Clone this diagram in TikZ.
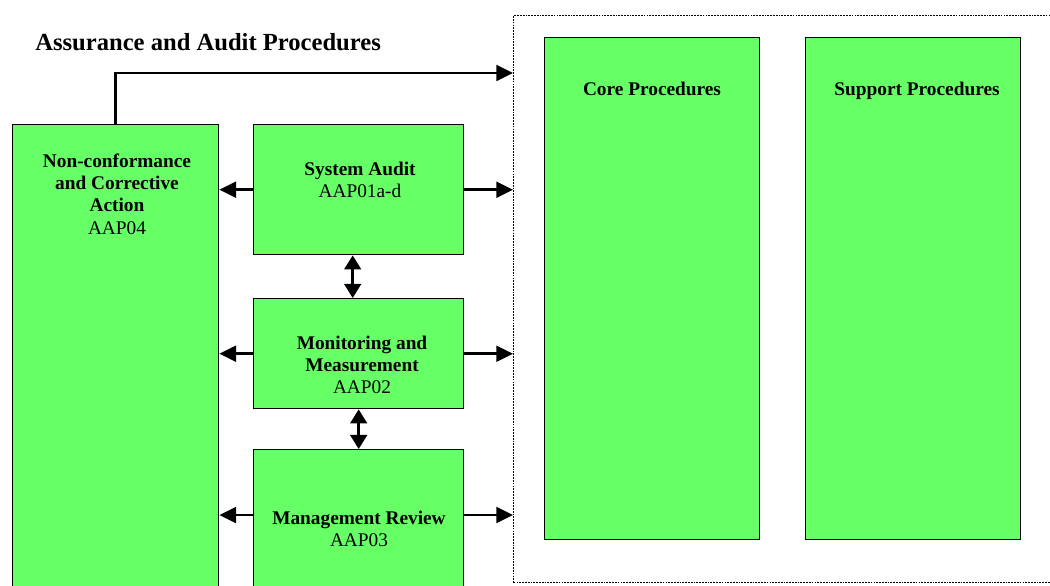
\documentclass[tikz,border=0pt]{standalone}
\usepackage{fontspec}
\setmainfont{Liberation Serif}
\usetikzlibrary{arrows.meta,calc}

\definecolor{procgreen}{HTML}{66FF66}

\tikzset{
  procbox/.style={draw, line width=0.8pt, fill=procgreen, inner sep=0pt, anchor=north west},
  boxtext/.style={align=center, font=\fontsize{11}{12.7}\selectfont},
  headtext/.style={anchor=base, font=\fontsize{11}{12.7}\selectfont\bfseries},
  flow/.style={line width=1.5pt, -{Triangle[length=9.5pt, width=9pt]}},
  dflow/.style={line width=1.5pt, {Triangle[length=8pt, width=9.5pt]}-{Triangle[length=8pt, width=9.5pt]}}
}

\begin{document}
\begin{tikzpicture}[x=0.02cm, y=-0.02cm]

\useasboundingbox (0,0) rectangle (1050,585) ;

\node [anchor=west, inner sep=0pt, font=\fontsize{14}{16}\selectfont\bfseries] (title) at (35,42) {Assurance and Audit Procedures} ;

% procedures frame
\node [draw, dash pattern=on 1pt off 0.6pt, line width=0.8pt, inner sep=0pt, anchor=north west,
       minimum width=11.14cm, minimum height=11.34cm] (frame) at (513,15) {} ;

\node [procbox, minimum width=4.3cm, minimum height=10.04cm] (core) at (544,37) {} ;
\node [procbox, minimum width=4.3cm, minimum height=10.04cm] (support) at (805,37) {} ;
\node [headtext] at (652,95) {Core Procedures} ;
\node [headtext] at (917,95) {Support Procedures} ;

% assurance boxes
\node [procbox, minimum width=4.12cm, minimum height=9.92cm] (nca) at (12,124) {} ;
\node [procbox, minimum width=4.2cm, minimum height=2.6cm] (audit) at (253,124) {} ;
\node [procbox, minimum width=4.2cm, minimum height=2.2cm] (mon) at (253,298) {} ;
\node [procbox, minimum width=4.2cm, minimum height=3.42cm] (mgmt) at (253,449) {} ;

\node [boxtext] at (117,194) {\textbf{Non-conformance}\\\textbf{and Corrective}\\\textbf{Action}\\AAP04} ;
\node [boxtext] at (360,180) {\textbf{System Audit}\\AAP01a-d} ;
\node [boxtext] at (362,365) {\textbf{Monitoring and}\\\textbf{Measurement}\\AAP02} ;
\node [boxtext] at (359,529) {\textbf{Management Review}\\AAP03} ;

% arrows
\coordinate (fr1) at (513,73) ;
\draw [flow] (nca.north) |- (fr1) ;

\draw [flow] (audit.west) -- (audit.west -| nca.east) ;
\draw [flow] (audit.east) -- (audit.east -| frame.west) ;
\draw [flow] (mon.west) -- (mon.west -| nca.east) ;
\draw [flow] (mon.east) -- (mon.east -| frame.west) ;

\coordinate (mgl) at ($(mgmt.north west)+(0,66)$) ;
\coordinate (mgr) at ($(mgmt.north east)+(0,66)$) ;
\draw [flow] (mgl) -- (mgl -| nca.east) ;
\draw [flow] (mgr) -- (mgr -| frame.west) ;

\draw [dflow] ($(audit.south)+(-6,0)$) -- ($(mon.north)+(-6,0)$) ;
\draw [dflow] (mon.south) -- (mgmt.north) ;

\end{tikzpicture}
\end{document}
